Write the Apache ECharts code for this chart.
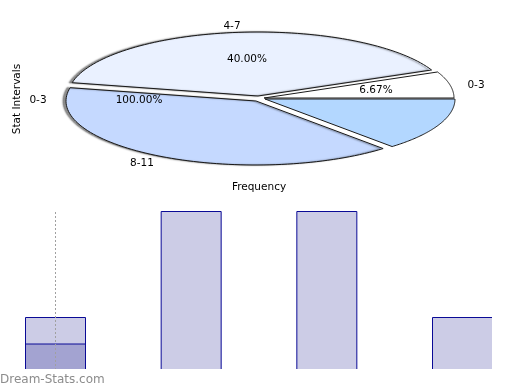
<!DOCTYPE html>
<html><head><meta charset="utf-8">
<script src="https://cdn.jsdelivr.net/npm/echarts@6/dist/echarts.min.js"></script>
<style>html,body{margin:0;padding:0;background:#fff}#c{width:520px;height:390px}</style>
</head><body><div id="c"></div>
<script>
// ---- data ----
const pieNames = ['4-7', '0-3', '0-3', '8-11'];
const pieValues = [6, 1, 2, 6];
const piePercentLabels = ['40.00%', '6.67%', '', '100.00%'];
const barCategories = ['0-3', '4-7', '8-11', '12-15'];
const barValues = [2, 6, 6, 2];
const barOverlayValues = [1, null, null, null];
const yAxisTitle = 'Stat Intervals';
const xAxisTitle = 'Frequency';
const watermarkText = 'Dream-Stats.com';

// ---- styling ----
const sliceColors = ['#eaf1ff', '#ffffff', '#b3d7ff', '#c5d9ff'];
const sliceOffsets = [[-2, -3], [4, -1], [5, 0], [-4, 2]];
const sliceShadow = [true, false, false, true];
const startAngleDeg = 192;
const nameLabelPos = [[232, 26], [476, 85], [38, 100], [142, 163]];
const pctLabelPos = [[247, 59], [376, 90], null, [139, 100]];
const FONT = 'DejaVu Sans';
const LBL = '10.5px "' + FONT + '"';

const total = pieValues.reduce((a, b) => a + b, 0);
let acc = 0;
const sliceData = pieValues.map((v, i) => {
  const s = acc / total; acc += v; const e = acc / total;
  return { name: pieNames[i], value: [s, e, i] };
});

const chart = echarts.init(document.getElementById('c'), null, { renderer: 'canvas' });

const graphics = [];
pieNames.forEach((n, i) => {
  const p = nameLabelPos[i];
  if (p) graphics.push({ type: 'text', x: p[0], y: p[1], z: 10, style: { text: n, fill: '#000', font: LBL, textAlign: 'center', textVerticalAlign: 'middle' } });
  const q = pctLabelPos[i];
  if (q && piePercentLabels[i]) graphics.push({ type: 'text', x: q[0], y: q[1], z: 10, style: { text: piePercentLabels[i], fill: '#000', font: LBL, textAlign: 'center', textVerticalAlign: 'middle' } });
});
graphics.push({ type: 'text', x: 17, y: 99, z: 10, rotation: Math.PI / 2, style: { text: yAxisTitle, fill: '#000', font: LBL, textAlign: 'center', textVerticalAlign: 'middle' } });
graphics.push({ type: 'text', x: 259, y: 187, z: 10, style: { text: xAxisTitle, fill: '#000', font: LBL, textAlign: 'center', textVerticalAlign: 'middle' } });
// white masks: the lower chart is cut at the bottom and right edges
graphics.push({ type: 'rect', z: 100, zlevel: 1, shape: { x: 0, y: 369, width: 520, height: 21 }, style: { fill: '#fff' } });
graphics.push({ type: 'rect', z: 100, zlevel: 1, shape: { x: 492, y: 195, width: 28, height: 195 }, style: { fill: '#fff' } });
graphics.push({ type: 'text', x: 0, y: 380, z: 101, zlevel: 1, style: { text: watermarkText, fill: '#8c8c8c', font: '12px "' + FONT + '"', textAlign: 'left', textVerticalAlign: 'middle' } });

const px0 = 55.5, pxStep = 135.67, gridRight = 520;
const xMin = -px0 / pxStep, xMax = (gridRight - px0) / pxStep;
const baseY = 370;
const yPxPerUnit = (369 - 210) / 6;
const yMax = (baseY - 195) / yPxPerUnit;

chart.setOption({
  animation: false,
  backgroundColor: '#fff',
  grid: [
    { left: 70, top: 35, width: 380, height: 128 },
    { left: 0, top: 195, width: gridRight, height: baseY - 195 }
  ],
  xAxis: [
    { gridIndex: 0, type: 'value', min: -1, max: 1, show: false },
    { gridIndex: 1, type: 'value', min: xMin, max: xMax, show: false }
  ],
  yAxis: [
    { gridIndex: 0, type: 'value', min: -1, max: 1, inverse: true, show: false },
    { gridIndex: 1, type: 'value', min: 0, max: yMax, show: false }
  ],
  graphic: graphics,
  series: [
    {
      type: 'custom', xAxisIndex: 0, yAxisIndex: 0,
      data: sliceData,
      renderItem: function (params, api) {
        const s = api.value(0), e = api.value(1), i = api.value(2);
        const off = sliceOffsets[i];
        const c = api.coord([0, 0]);
        const pts = [[c[0] + off[0], c[1] + off[1]]];
        const a0 = startAngleDeg * Math.PI / 180;
        const N = 80;
        for (let k = 0; k <= N; k++) {
          const a = a0 + 2 * Math.PI * (s + (e - s) * k / N);
          const p = api.coord([Math.cos(a), Math.sin(a)]);
          pts.push([p[0] + off[0], p[1] + off[1]]);
        }
        const style = { fill: sliceColors[i], stroke: '#1a1a1a', lineWidth: 1 };
        if (sliceShadow[i]) {
          style.shadowColor = 'rgba(0,0,0,0.45)';
          style.shadowBlur = 1.5;
          style.shadowOffsetX = -3;
          style.shadowOffsetY = 0;
        }
        return { type: 'polygon', shape: { points: pts }, style: style };
      }
    },
    {
      type: 'bar', xAxisIndex: 1, yAxisIndex: 1,
      name: 'freq',
      data: barValues.map((v, i) => [i, v]),
      barWidth: 61, barGap: '-100%',
      itemStyle: { color: '#ccccE6', borderColor: '#0a0a96', borderWidth: 1 },
      markLine: {
        silent: true, symbol: 'none', label: { show: false },
        lineStyle: { color: '#a0a0a0', type: [2, 2], width: 1 },
        data: [[{ coord: [0, 0] }, { coord: [0, 6] }]]
      }
    },
    {
      type: 'bar', xAxisIndex: 1, yAxisIndex: 1,
      name: 'overlay',
      data: barOverlayValues.map((v, i) => [i, v]),
      barWidth: 61, barGap: '-100%',
      itemStyle: { color: '#a3a3d1', borderColor: '#0a0a96', borderWidth: 1 }
    }
  ]
});
</script></body></html>
